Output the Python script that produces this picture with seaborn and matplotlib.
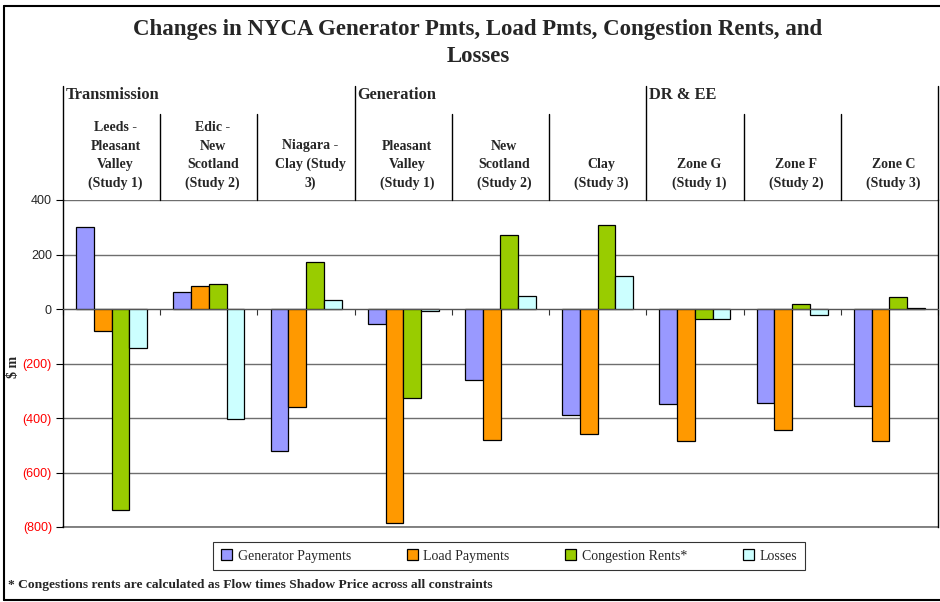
import pandas as pd
import matplotlib.pyplot as plt
import matplotlib.transforms as mtransforms
from matplotlib.ticker import FuncFormatter
import seaborn as sns

# Chart values ($m)
categories = ["Leeds -\nPleasant\nValley\n(Study 1)", "Edic -\nNew\nScotland\n(Study 2)",
              "Niagara -\nClay (Study\n3)", "Pleasant\nValley\n(Study 1)", "New\nScotland\n(Study 2)",
              "Clay\n(Study 3)", "Zone G\n(Study 1)", "Zone F\n(Study 2)", "Zone C\n(Study 3)"]
groups = ["Transmission", "Generation", "DR & EE"]
series = ["Generator Payments", "Load Payments", "Congestion Rents*", "Losses"]
generator_pmts = [301, 62, -521, -55, -262, -388, -349, -345, -355]
load_pmts = [-80, 83, -358, -786, -482, -459, -483, -443, -483]
congestion_rents = [-736, 92, 171, -328, 273, 310, -38, 20, 44]
losses = [-143, -402, 33, -8, 49, 121, -38, -22, 2]
colors = ["#9999FF", "#FF9900", "#99CC00", "#CCFFFF"]

df = pd.DataFrame({
    "category": categories * 4,
    "series": sum([[s] * len(categories) for s in series], []),
    "value": generator_pmts + load_pmts + congestion_rents + losses,
})

sns.set_style("white")
plt.rcParams["font.family"] = ["Liberation Serif", "DejaVu Serif"]

fig = plt.figure(figsize=(9.4, 6.02), dpi=100)
ax = fig.add_axes([63 / 940, 75 / 602, 875 / 940, 327 / 602])

sns.barplot(data=df, x="category", y="value", hue="series", palette=colors,
            width=0.73, edgecolor="black", linewidth=0.9, saturation=1, ax=ax)

ax.set_xlim(-0.5, len(categories) - 0.5)
ax.set_ylim(-800, 400)
ax.set_yticks(range(-800, 401, 200))
ax.yaxis.set_major_formatter(FuncFormatter(lambda v, p: f"({abs(int(v))})" if v < 0 else f"{int(v)}"))
for lab in ax.get_yticklabels():
    lab.set_fontfamily("Liberation Sans")
    lab.set_fontsize(9)
    if lab.get_text().startswith("("):
        lab.set_color("red")
ax.tick_params(axis="y", left=True, direction="out", length=5, width=0.8, color="black", pad=3)
ax.yaxis.grid(True, color="#6e6e6e", lw=1)
ax.set_axisbelow(True)
ax.axhline(-800, color="#6e6e6e", lw=1.2, clip_on=False, zorder=0.5)

# category axis sits on the zero line, ticks at category boundaries
ax.spines["bottom"].set_position(("data", 0))
ax.spines["bottom"].set_color("#555555")
ax.set_xticks([i - 0.5 for i in range(len(categories) + 1)])
ax.set_xticklabels([])
ax.tick_params(axis="x", bottom=True, direction="out", length=4, width=0.8, color="#333333")
ax.spines["top"].set_visible(False)
for side in ["left", "right"]:
    ax.spines[side].set_visible(True)
    ax.spines[side].set_color("black")
    ax.spines[side].set_linewidth(1)
ax.set_xlabel("")
ax.set_ylabel("$ m", fontsize=10, fontweight="bold")
ax.yaxis.set_label_coords(-0.049, 0.49)

# header table with group and category labels
trans = mtransforms.blended_transform_factory(ax.transData, ax.transAxes)
for x in [-0.5, 2.5, 5.5, 8.5]:
    ax.plot([x, x], [1.0, 1.349], color="black", lw=1, transform=trans, clip_on=False)
for x in [0.5, 1.5, 3.5, 4.5, 6.5, 7.5]:
    ax.plot([x, x], [1.0, 1.263], color="black", lw=1, transform=trans, clip_on=False)
for i, g in enumerate(groups):
    ax.text(3 * i - 0.5 + 0.03, 1.321, g, transform=trans, ha="left", va="center",
            fontsize=11.8, fontweight="bold")
for i, c in enumerate(categories):
    ax.text(i + 0.04, 1.03, c, transform=trans, ha="center", va="bottom",
            multialignment="center", fontsize=10, fontweight="bold", linespacing=1.55)

# legend
handles, labels = ax.get_legend_handles_labels()
ax.get_legend().remove()
leg = fig.legend(handles, labels, loc="center", bbox_to_anchor=(509 / 940, 1 - 556 / 602),
                 ncol=4, frameon=True, fancybox=False, edgecolor="black", fontsize=10,
                 handlelength=0.8, handleheight=0.8, handletextpad=0.4, columnspacing=4.0,
                 borderpad=0.55, borderaxespad=0)
leg.get_frame().set_linewidth(0.8)

fig.text(478 / 940, 1 - 43 / 602, "Changes in NYCA Generator Pmts, Load Pmts, Congestion Rents, and\nLosses",
         ha="center", va="center", fontsize=16.5, fontweight="bold", linespacing=1.4)
fig.text(8 / 940, 1 - 585 / 602,
         "* Congestions rents are calculated as Flow times Shadow Price across all constraints",
         ha="left", va="center", fontsize=9.7, fontweight="bold")

# outer border
for xs, ys in [([4 / 940, 1.01], [596 / 602, 596 / 602]), ([4 / 940, 1.01], [2 / 602, 2 / 602]),
               ([4 / 940, 4 / 940], [2 / 602, 596 / 602])]:
    fig.add_artist(plt.Line2D(xs, ys, color="black", lw=1.5, transform=fig.transFigure))

fig.savefig("out.png", dpi=100)
